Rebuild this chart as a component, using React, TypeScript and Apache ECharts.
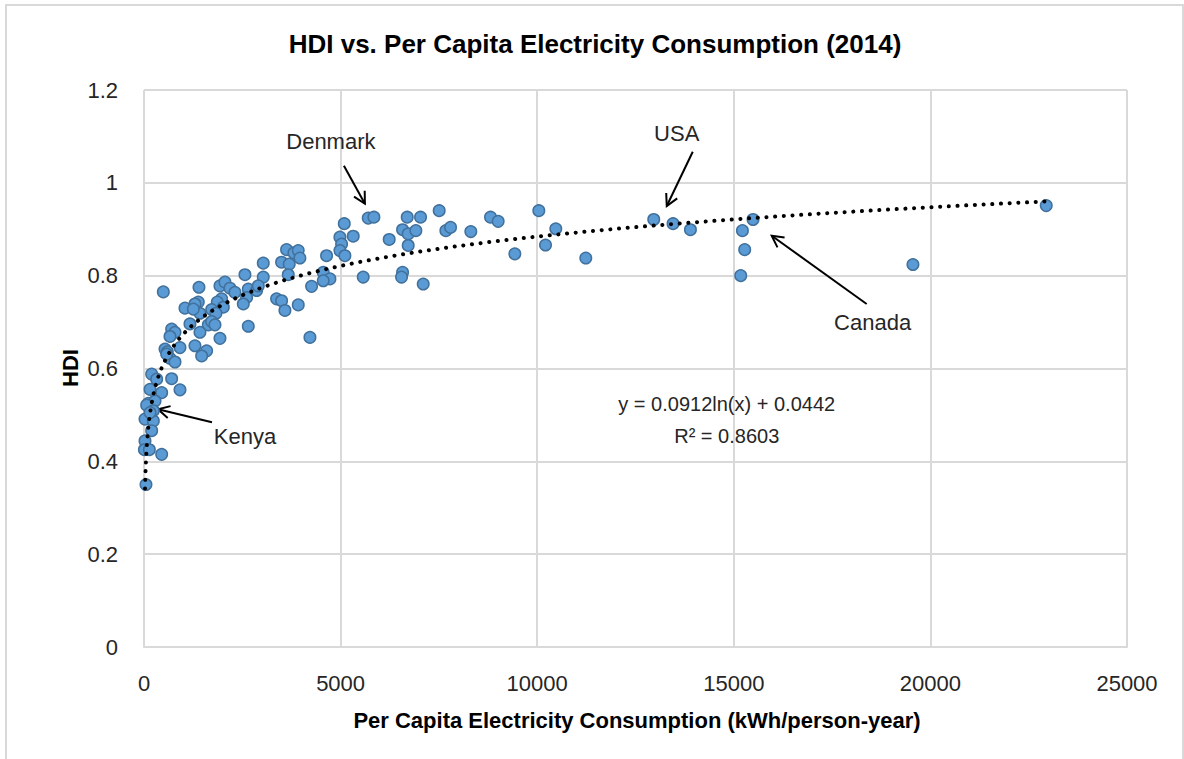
import React, { useEffect, useRef } from "react";
import * as echarts from "echarts";

// Per capita electricity consumption (kWh/person-year)
const consumption = [
  3626, 3813, 3923, 3965, 3499, 3694, 3033, 3669, 4643,
  2567, 3033, 1932, 2059, 2186, 2313, 2652, 2864, 2610, 2906, 4558, 4728, 4558, 4262,
  3372, 3499, 3584, 3923, 2525, 1974, 1864, 2017, 1720, 1830, 1423, 1381, 1296, 1042, 1254,
  2652, 1932, 4220, 703, 788, 661, 1169, 1635, 1720, 1805, 1423, 915, 1296, 1593, 1466, 534, 593, 661, 788, 576,
  195, 322, 703, 915, 153, 449, 110, 280, 25, 237, 195, 25, 10, 136, 449, 68, 237, 153, 50, 491, 1398,
  4982, 5025, 4982, 5109, 5093, 5321, 5575, 5702, 5847, 6236, 6576, 6694, 6719, 6914, 7033, 6719, 6576, 6550, 7101,
  7507, 7677, 7796, 8312, 8813, 9007, 9431, 10041, 10211, 10473,
  11236, 12964, 13455, 13897, 15219, 15277, 15176, 15489, 19556, 22946,
];

// Human Development Index
const hdi = [
  0.856, 0.849, 0.854, 0.838, 0.829, 0.825, 0.827, 0.802, 0.843,
  0.802, 0.797, 0.778, 0.786, 0.773, 0.764, 0.771, 0.768, 0.753, 0.778, 0.807, 0.793, 0.789, 0.777,
  0.75, 0.746, 0.725, 0.737, 0.739, 0.75, 0.743, 0.732, 0.727, 0.719, 0.719, 0.743, 0.739, 0.73, 0.728,
  0.691, 0.665, 0.667, 0.685, 0.678, 0.669, 0.696, 0.694, 0.701, 0.694, 0.678, 0.645, 0.649, 0.638, 0.627, 0.642, 0.636, 0.622, 0.614, 0.631,
  0.588, 0.577, 0.578, 0.554, 0.555, 0.548, 0.525, 0.53, 0.491, 0.487, 0.466, 0.444, 0.425, 0.425, 0.415, 0.521, 0.509, 0.505, 0.35, 0.765, 0.775,
  0.883, 0.868, 0.854, 0.843, 0.912, 0.885, 0.797, 0.924, 0.926, 0.878, 0.899, 0.926, 0.89, 0.897, 0.926, 0.865, 0.807, 0.797, 0.782,
  0.94, 0.897, 0.904, 0.895, 0.926, 0.917, 0.847, 0.94, 0.866, 0.901,
  0.838, 0.921, 0.912, 0.899, 0.897, 0.856, 0.8, 0.921, 0.824, 0.951,
];

// Logarithmic trendline from the chart: y = 0.0912 ln(x) + 0.0442
const trendSlope = 0.0912;
const trendIntercept = 0.0442;
const trendFrom = 26;
const trendTo = 23000;
const trendSamples = 300;

const equationLines = ["y = 0.0912ln(x) + 0.0442", "R² = 0.8603"];
const equationAnchor = [14820, 0.523];
const equationLineGap = 0.068;

const annotationLabels = ["Denmark", "USA", "Canada", "Kenya"];
const annotationText = [[4753, 1.088], [13549, 1.106], [18531, 0.7], [2567, 0.454]];
const annotationTail = [[5084, 1.037], [13956, 1.067], [18379, 0.739], [1729, 0.484]];
const annotationTip = [[5618, 0.955], [13295, 0.95], [15964, 0.886], [356, 0.512]];

const FONT = "'Liberation Sans', Arial, sans-serif";
const TEXT = "#262626";

export default function App() {
  const ref = useRef<HTMLDivElement>(null);

  useEffect(() => {
    if (!ref.current) return;
    const chart = echarts.init(ref.current, null, { renderer: "svg" });

    const points = consumption.map((x, i) => [x, hdi[i]]);
    const trend: number[][] = [];
    const l0 = Math.log(trendFrom);
    const l1 = Math.log(trendTo);
    for (let i = 0; i <= trendSamples; i++) {
      const x = Math.exp(l0 + ((l1 - l0) * i) / trendSamples);
      trend.push([x, trendSlope * Math.log(x) + trendIntercept]);
    }

    chart.setOption({
      animation: false,
      grid: { left: 144, right: 57, top: 90, bottom: 112, containLabel: false },
      xAxis: {
        type: "value",
        min: 0,
        max: 25000,
        interval: 5000,
        axisLine: { show: true, lineStyle: { color: "#d9d9d9", width: 2 } },
        axisTick: { show: false },
        splitLine: { show: true, lineStyle: { color: "#d9d9d9", width: 2 } },
        axisLabel: {
          color: TEXT,
          fontSize: 22,
          fontFamily: FONT,
          margin: 25,
          formatter: (v: number) => String(v),
        },
      },
      yAxis: {
        type: "value",
        min: 0,
        max: 1.2,
        interval: 0.2,
        axisLine: { show: false },
        axisTick: { show: false },
        splitLine: { show: true, lineStyle: { color: "#d9d9d9", width: 2 } },
        axisLabel: {
          color: TEXT,
          fontSize: 22,
          fontFamily: FONT,
          margin: 26,
          formatter: (v: number) => String(Math.round(v * 10) / 10),
        },
      },
      series: [
        {
          type: "scatter",
          data: points,
          symbol: "circle",
          symbolSize: 11.5,
          itemStyle: { color: "#5B9BD5", borderColor: "#41719C", borderWidth: 1.5, opacity: 1 },
          z: 2,
        },
        {
          type: "line",
          data: trend,
          showSymbol: false,
          symbol: "none",
          lineStyle: { color: "#000", width: 4, type: [0.1, 8.6], cap: "round" },
          z: 3,
        },
      ],
    });

    const px = (p: number[]) => chart.convertToPixel({ xAxisIndex: 0, yAxisIndex: 0 }, p) as number[];
    const graphics: any[] = [
      {
        type: "rect",
        shape: { x: 6, y: 5, width: 1177, height: 800 },
        style: { fill: "none", stroke: "#d9d9d9", lineWidth: 2 },
        silent: true,
      },
      {
        type: "text",
        x: 595,
        y: 44,
        style: {
          text: "HDI vs. Per Capita Electricity Consumption (2014)",
          fontSize: 26,
          fontWeight: "bold",
          fontFamily: FONT,
          fill: "#000",
          align: "center",
          verticalAlign: "middle",
        },
      },
      {
        type: "text",
        x: 637,
        y: 720,
        style: {
          text: "Per Capita Electricity Consumption (kWh/person-year)",
          fontSize: 22,
          fontWeight: "bold",
          fontFamily: FONT,
          fill: "#000",
          align: "center",
          verticalAlign: "middle",
        },
      },
      {
        type: "text",
        x: 70,
        y: 368,
        rotation: Math.PI / 2,
        style: {
          text: "HDI",
          fontSize: 22,
          fontWeight: "bold",
          fontFamily: FONT,
          fill: "#000",
          align: "center",
          verticalAlign: "middle",
        },
      },
    ];

    equationLines.forEach((t, i) => {
      const p = px([equationAnchor[0], equationAnchor[1] - i * equationLineGap]);
      graphics.push({
        type: "text",
        x: p[0],
        y: p[1],
        style: { text: t, fontSize: 20, fontFamily: FONT, fill: TEXT, align: "center", verticalAlign: "middle" },
      });
    });

    annotationLabels.forEach((label, i) => {
      const tp = px(annotationText[i]);
      const a = px(annotationTail[i]);
      const b = px(annotationTip[i]);
      graphics.push({
        type: "text",
        x: tp[0],
        y: tp[1],
        style: { text: label, fontSize: 22, fontFamily: FONT, fill: TEXT, align: "center", verticalAlign: "middle" },
      });
      graphics.push({
        type: "line",
        shape: { x1: a[0], y1: a[1], x2: b[0], y2: b[1] },
        style: { stroke: "#000", lineWidth: 2 },
      });
      const ang = Math.atan2(b[1] - a[1], b[0] - a[0]);
      const L = 13;
      const th = (28 * Math.PI) / 180;
      graphics.push({
        type: "polyline",
        shape: {
          points: [
            [b[0] - L * Math.cos(ang - th), b[1] - L * Math.sin(ang - th)],
            [b[0], b[1]],
            [b[0] - L * Math.cos(ang + th), b[1] - L * Math.sin(ang + th)],
          ],
        },
        style: { stroke: "#000", lineWidth: 2, fill: "none" },
      });
    });

    chart.setOption({ graphic: { elements: graphics } });

    return () => chart.dispose();
  }, []);

  return (
    <div
      ref={ref}
      style={{ position: "fixed", left: 0, top: 0, width: 1184, height: 759, background: "#fff" }}
    />
  );
}
